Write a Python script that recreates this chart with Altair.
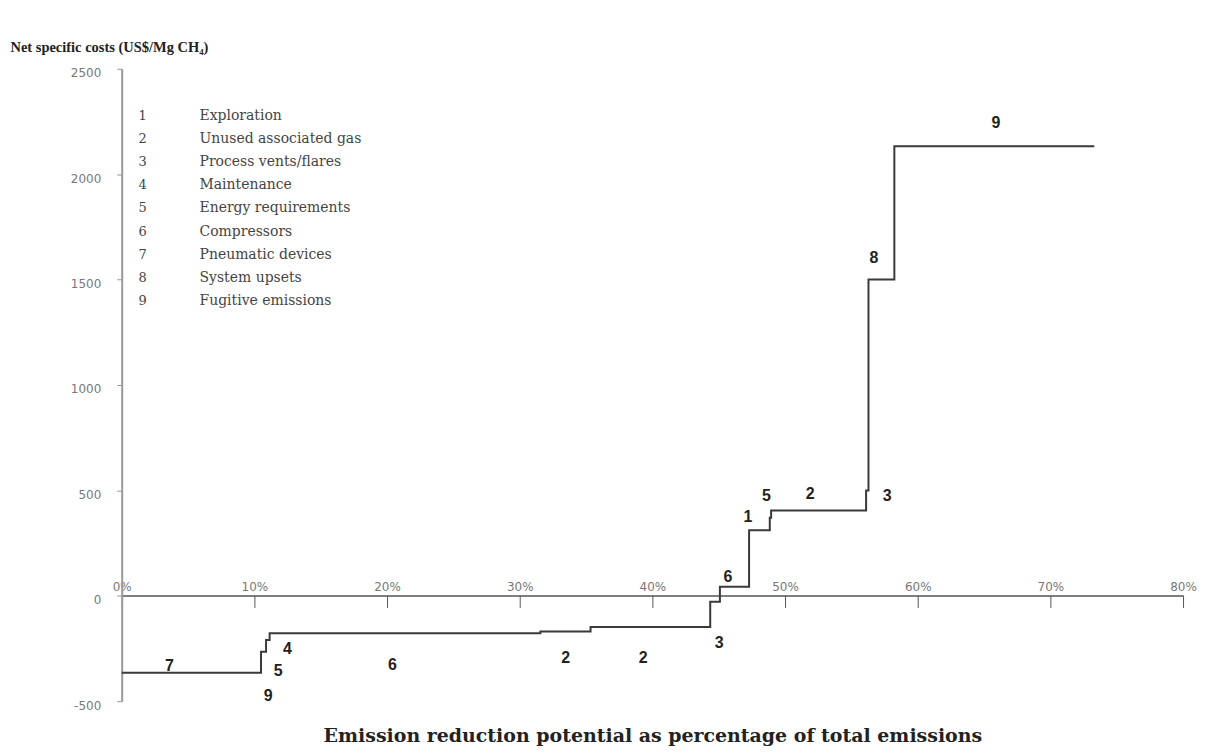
import altair as alt
import pandas as pd

# Step segments of the cost curve (percent of total emissions, US$/Mg CH4)
seg_label = ["7", "5", "4", "6", "2", "2", "3", "6", "1", "5", "2", "3", "8", "9"]
seg_start = [0.0, 10.5, 10.88, 11.15, 31.56, 35.34, 44.36, 45.09, 47.29, 48.85, 48.95, 56.11, 56.29, 58.24]
seg_end = [10.5, 10.88, 11.15, 31.56, 35.34, 44.36, 45.09, 47.29, 48.85, 48.95, 56.11, 56.29, 58.24, 73.31]
seg_cost = [-365, -265, -210, -178, -170, -148, -28, 43, 311, 370, 405, 500, 1500, 2133]

# Number annotations placed beside the steps
lbl_text = ["7", "4", "5", "9", "6", "2", "2", "3", "6", "1", "5", "2", "3", "8", "9"]
lbl_pct = [3.6, 12.5, 11.8, 11.05, 20.4, 33.46, 39.3, 45.04, 45.7, 47.2, 48.6, 51.9, 57.7, 56.7, 65.9]
lbl_cost = [-335, -254, -358, -477, -330, -297, -297, -226, 91, 375, 474, 484, 474, 1602, 2241]

# Legend of source categories
legend_num = ["1", "2", "3", "4", "5", "6", "7", "8", "9"]
legend_name = [
    "Exploration",
    "Unused associated gas",
    "Process vents/flares",
    "Maintenance",
    "Energy requirements",
    "Compressors",
    "Pneumatic devices",
    "System upsets",
    "Fugitive emissions",
]

x_ticks = [0, 10, 20, 30, 40, 50, 60, 70, 80]
y_ticks = [-500, 0, 500, 1000, 1500, 2000, 2500]

rows = []
for i, (s, e, c) in enumerate(zip(seg_start, seg_end, seg_cost)):
    rows.append({"pct": s, "cost": c, "ord": 2 * i})
    rows.append({"pct": e, "cost": c, "ord": 2 * i + 1})
line_df = pd.DataFrame(rows)
lbl_df = pd.DataFrame({"pct": lbl_pct, "cost": lbl_cost, "txt": lbl_text})
leg_df = pd.DataFrame({"row": list(range(1, 10)), "num": legend_num, "name": legend_name})

xscale = alt.Scale(domain=[0, 80], nice=False, zero=False)
yscale = alt.Scale(domain=[-500, 2500], nice=False, zero=False)

x_axis = alt.Axis(
    values=x_ticks,
    labelExpr="datum.value + '%'",
    offset=-106,
    grid=False,
    domainColor="#555555",
    domainWidth=1.5,
    tickColor="#555555",
    tickSize=12,
    tickWidth=1,
    labelColor="#777777",
    labelFont="DejaVu Sans",
    labelFontSize=12,
    labelPadding=-26,
    labelFlush=False,
    title="Emission reduction potential as percentage of total emissions",
    titleFont="DejaVu Serif",
    titleFontWeight="bold",
    titleFontSize=19,
    titleColor="#222222",
    titleY=146,
    titleBaseline="alphabetic",
)
y_axis = alt.Axis(
    values=y_ticks,
    labelExpr="'' + datum.value",
    grid=False,
    domainColor="#999999",
    domainWidth=2,
    tickColor="#999999",
    tickSize=5,
    labelColor="#777777",
    labelFont="DejaVu Sans",
    labelFontSize=12,
    labelPadding=16,
    labelOffset=4,
    labelFlush=False,
    title="Net specific costs (US$/Mg CH₄)",
    titleAngle=0,
    titleX=-112,
    titleY=-21,
    titleAlign="left",
    titleBaseline="middle",
    titleFont="Liberation Serif",
    titleFontWeight="bold",
    titleFontSize=14.5,
    titleColor="#222222",
)

line = alt.Chart(line_df).mark_line(color="#3a3a3a", strokeWidth=2).encode(
    x=alt.X("pct:Q", scale=xscale, axis=x_axis),
    y=alt.Y("cost:Q", scale=yscale, axis=y_axis),
    order="ord:Q",
)

labels = alt.Chart(lbl_df).mark_text(
    font="Liberation Sans", fontWeight="bold", fontSize=16, color="#222222", baseline="middle", align="center"
).encode(
    x=alt.X("pct:Q", scale=xscale),
    y=alt.Y("cost:Q", scale=yscale),
    text="txt:N",
)

main = alt.layer(line, labels)

leg_y = alt.Y("row:O", scale=alt.Scale(type="point", range=[47, 233], padding=0), axis=None)
leg_num = alt.Chart(leg_df).mark_text(
    font="DejaVu Serif", fontSize=13, color="#444444", align="center", baseline="middle"
).encode(x=alt.value(21), y=leg_y, text="num:N")
leg_name = alt.Chart(leg_df).mark_text(
    font="DejaVu Serif", fontSize=14, color="#444444", align="left", baseline="middle"
).encode(x=alt.value(78), y=leg_y, text="name:N")

legend = alt.layer(leg_num, leg_name)

chart = (
    alt.layer(main, legend)
    .resolve_scale(y="independent")
    .properties(
        width=1064,
        height=634,
        autosize=alt.AutoSizeParams(type="none"),
        padding={"left": 114, "top": 60, "right": 14, "bottom": 44},
        background="white",
    )
    .configure_view(stroke=None)
)

chart.save("out.html", embed_options={"renderer": "svg", "actions": False})
